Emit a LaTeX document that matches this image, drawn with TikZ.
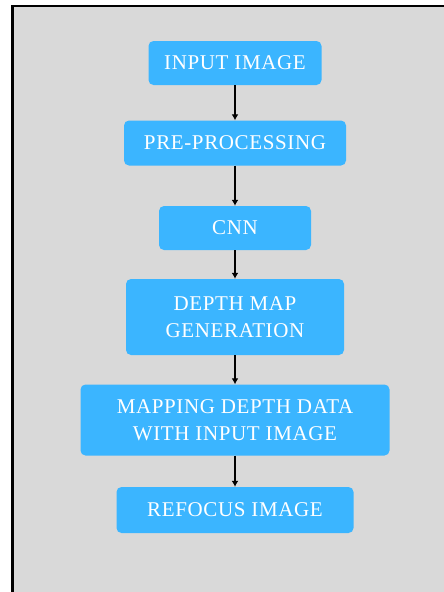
\documentclass[tikz,border=0pt]{standalone}
\usepackage{fontspec}
\setmainfont{Liberation Serif}[LetterSpace=3]
\usetikzlibrary{arrows.meta}
\definecolor{boxblue}{HTML}{3BB5FF}
\definecolor{panelgrey}{HTML}{D9D9D9}
\begin{document}
\begin{tikzpicture}[x=1pt,y=1pt,
        stage/.style = {fill=boxblue, text=white, rounded corners=5pt, align=center,
                        inner sep=0pt, font=\fontsize{21}{27}\selectfont},
        flow/.style = {-{Latex[length=6pt,width=7pt]}, line width=1.5pt}]
        \useasboundingbox (0,0) rectangle (444,-592);
        \clip (0,0) rectangle (444,-592);
        \draw[fill=panelgrey, line width=2.5pt] (12.5,-6) rectangle (470,-620);

        \node[stage, minimum width=173pt, minimum height=44pt] (0) at (235,-63) {INPUT IMAGE};
        \node[stage, minimum width=222pt, minimum height=45pt] (1) at (235,-143) {PRE-PROCESSING};
        \node[stage, minimum width=152pt, minimum height=44pt] (2) at (235,-228) {CNN};
        \node[stage, minimum width=218pt, minimum height=76pt] (3) at (235,-317) {DEPTH MAP\\GENERATION};
        \node[stage, minimum width=309pt, minimum height=71pt] (4) at (235,-420) {MAPPING DEPTH DATA\\WITH INPUT IMAGE};
        \node[stage, minimum width=237pt, minimum height=46pt] (5) at (235,-510) {REFOCUS IMAGE};

        \draw[flow] (0) -- (1);
        \draw[flow] (1) -- (2);
        \draw[flow] (2) -- (3);
        \draw[flow] (3) -- (4);
        \draw[flow] (4) -- (5);
    \end{tikzpicture}
\end{document}
